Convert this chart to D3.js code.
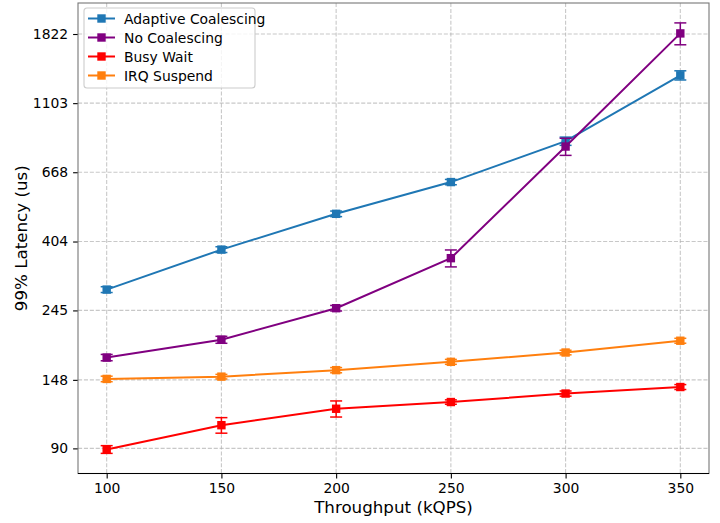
<!DOCTYPE html>
<html>
<head>
<meta charset="utf-8">
<script src="https://cdn.jsdelivr.net/npm/d3@7"></script>
<style>
  body { margin: 0; background: #fff; }
  svg { display: block; font-family: "DejaVu Sans", sans-serif; }
</style>
</head>
<body>
<div id="chart"></div>
<script>
// throughput (kQPS)
const throughput = [100, 150, 200, 250, 300, 350];
const yTicks = [90, 148, 245, 404, 668, 1103, 1822];

// 99% latency (us) and error sizes
const adaptive    = [285, 381, 494, 622, 837, 1350];
const adaptiveErr = [6, 8, 10, 12, 25, 45];
const noCoal      = [174, 198, 249, 358, 805, 1830];
const noCoalErr   = [4, 5, 5, 22, 50, 145];
const busyWait    = [89.3, 106.5, 120, 126, 134, 140.5];
const busyWaitErr = [2.5, 6, 7, 2, 2.5, 2.5];
const irq         = [149, 151.5, 158.8, 168.7, 180.5, 196.6];
const irqErr      = [3, 2.5, 3, 3, 3, 3.5];

const seriesNames  = ["Adaptive Coalescing", "No Coalescing", "Busy Wait", "IRQ Suspend"];
const seriesColors = ["#1f77b4", "purple", "red", "#ff7f0e"];
const seriesVals   = [adaptive, noCoal, busyWait, irq];
const seriesErrs   = [adaptiveErr, noCoalErr, busyWaitErr, irqErr];

const W = 720, H = 523;
const m = { left: 78, right: 11, top: 3, bottom: 49.5 };
const iw = W - m.left - m.right, ih = H - m.top - m.bottom;

const svg = d3.select("#chart").append("svg").attr("width", W).attr("height", H);
const g = svg.append("g").attr("transform", `translate(${m.left},${m.top})`);

const x = d3.scaleLinear().domain([87.5, 362.5]).range([0, iw]);
const y = d3.scaleLog().domain([75, 2282]).range([ih, 0]);

// grid
const grid = g.append("g").attr("stroke", "#b0b0b0").attr("stroke-opacity", 0.7)
  .attr("stroke-width", 1.1).attr("stroke-dasharray", "4.1,1.8");
throughput.forEach(t => grid.append("line").attr("x1", x(t)).attr("x2", x(t)).attr("y1", 0).attr("y2", ih));
yTicks.forEach(t => grid.append("line").attr("x1", 0).attr("x2", iw).attr("y1", y(t)).attr("y2", y(t)));

// axes
const xAxis = g.append("g").attr("transform", `translate(0,${ih})`)
  .call(d3.axisBottom(x).tickValues(throughput).tickSize(4.9).tickPadding(4.9).tickFormat(d3.format("d")));
const yAxis = g.append("g")
  .call(d3.axisLeft(y).tickValues(yTicks).tickSize(4.9).tickPadding(4.9).tickFormat(d3.format("d")));
[xAxis, yAxis].forEach(a => {
  a.select(".domain").remove();
  a.selectAll(".tick line").attr("stroke", "#000").attr("stroke-width", 1.1);
  a.selectAll(".tick text").attr("fill", "#000").style("font-size", "13.9px")
    .style("font-family", "DejaVu Sans");
});

// series
const line = d3.line().x((d, i) => x(throughput[i])).y(d => y(d));
seriesVals.forEach((vals, s) => {
  const c = seriesColors[s];
  const sg = g.append("g");
  sg.append("path").datum(vals).attr("d", line).attr("fill", "none")
    .attr("stroke", c).attr("stroke-width", 2);
  vals.forEach((v, i) => {
    const e = seriesErrs[s][i];
    const px = x(throughput[i]);
    const y0 = y(v - e), y1 = y(v + e);
    sg.append("line").attr("x1", px).attr("x2", px).attr("y1", y0).attr("y2", y1)
      .attr("stroke", c).attr("stroke-width", 1.5);
    [y0, y1].forEach(cy => sg.append("line").attr("x1", px - 6).attr("x2", px + 6)
      .attr("y1", cy).attr("y2", cy).attr("stroke", c).attr("stroke-width", 1.5));
    sg.append("rect").attr("x", px - 4.2).attr("y", y(v) - 4.2).attr("width", 8.4).attr("height", 8.4)
      .attr("fill", c);
  });
});

// frame
g.append("rect").attr("width", iw).attr("height", ih).attr("fill", "none")
  .attr("stroke", "#777").attr("stroke-width", 1.1);
g.append("line").attr("x1", 0).attr("x2", iw).attr("y1", ih).attr("y2", ih)
  .attr("stroke", "#000").attr("stroke-width", 1.1);

// axis labels
svg.append("text").attr("x", m.left + iw / 2).attr("y", 513).attr("text-anchor", "middle")
  .style("font-size", "16.7px").text("Throughput (kQPS)");
svg.append("text").attr("transform", `translate(27,${m.top + ih / 2}) rotate(-90)`)
  .attr("text-anchor", "middle").style("font-size", "16.7px").text("99% Latency (us)");

// legend
const lg = svg.append("g").attr("transform", "translate(84,8)");
lg.append("rect").attr("width", 171).attr("height", 80).attr("rx", 3)
  .attr("fill", "#fff").attr("fill-opacity", 0.8).attr("stroke", "#ccc").attr("stroke-width", 1.1);
seriesNames.forEach((name, i) => {
  const cy = 10.5 + i * 19;
  const c = seriesColors[i];
  lg.append("line").attr("x1", 4).attr("x2", 31).attr("y1", cy).attr("y2", cy)
    .attr("stroke", c).attr("stroke-width", 2);
  lg.append("rect").attr("x", 17.5 - 4.2).attr("y", cy - 4.2).attr("width", 8.4).attr("height", 8.4).attr("fill", c);
  lg.append("text").attr("x", 40).attr("y", cy).attr("dy", "0.36em")
    .style("font-size", "13.9px").text(name);
});
</script>
</body>
</html>
